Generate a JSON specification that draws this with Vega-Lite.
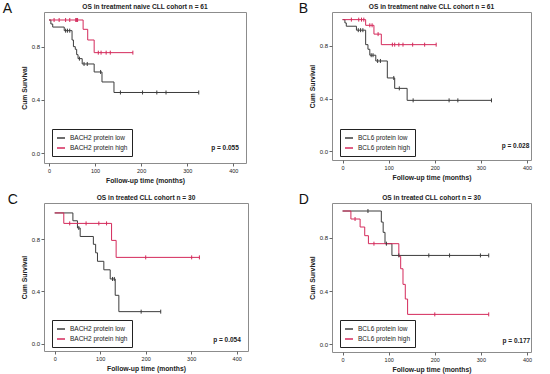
{
  "$schema": "https://vega.github.io/schema/vega-lite/v6.json",
  "background": "white",
  "padding": {"left": 2, "top": 1, "right": 2, "bottom": 1},
  "config": {
    "font": "Liberation Sans",
    "view": {"stroke": "#8c8c8c", "strokeWidth": 1},
    "axis": {"domain": false, "grid": false, "tickColor": "#666", "tickSize": 3, "labelFontSize": 5.5, "labelColor": "#222", "titleFontSize": 6.8, "titleFontWeight": "bold", "titleColor": "#222", "labelPadding": 2, "labelOverlap": false},
    "axisY": {"titlePadding": 4, "labelOverlap": false, "labelFontSize": 6, "labelPadding": 1.5},
    "axisX": {"titlePadding": 4},
    "title": {"fontSize": 6.6, "fontWeight": "bold", "color": "#222", "offset": 1},
    "legend": {"orient": "none", "legendX": 8, "legendY": 117, "strokeColor": "#222", "fillColor": "white", "padding": 4, "symbolType": "stroke", "symbolSize": 64, "symbolStrokeWidth": 1.5, "labelFontSize": 6.5, "labelColor": "#222", "rowPadding": 1, "labelLimit": 300}
  },
  "datasets": {
    "curves": [
      {"panel": "A", "group": "BACH2 protein low", "t": 0, "s": 1},
      {"panel": "A", "group": "BACH2 protein low", "t": 4, "s": 0.97},
      {"panel": "A", "group": "BACH2 protein low", "t": 8, "s": 0.947},
      {"panel": "A", "group": "BACH2 protein low", "t": 33, "s": 0.92},
      {"panel": "A", "group": "BACH2 protein low", "t": 50, "s": 0.85},
      {"panel": "A", "group": "BACH2 protein low", "t": 53, "s": 0.8},
      {"panel": "A", "group": "BACH2 protein low", "t": 57, "s": 0.78},
      {"panel": "A", "group": "BACH2 protein low", "t": 60, "s": 0.74},
      {"panel": "A", "group": "BACH2 protein low", "t": 63, "s": 0.71},
      {"panel": "A", "group": "BACH2 protein low", "t": 72, "s": 0.67},
      {"panel": "A", "group": "BACH2 protein low", "t": 98, "s": 0.61},
      {"panel": "A", "group": "BACH2 protein low", "t": 115, "s": 0.535},
      {"panel": "A", "group": "BACH2 protein low", "t": 141, "s": 0.456},
      {"panel": "A", "group": "BACH2 protein low", "t": 325, "s": 0.456},
      {"panel": "A", "group": "BACH2 protein high", "t": 0, "s": 1},
      {"panel": "A", "group": "BACH2 protein high", "t": 74, "s": 0.93},
      {"panel": "A", "group": "BACH2 protein high", "t": 84, "s": 0.85},
      {"panel": "A", "group": "BACH2 protein high", "t": 98, "s": 0.755},
      {"panel": "A", "group": "BACH2 protein high", "t": 182, "s": 0.755},
      {"panel": "B", "group": "BCL6 protein low", "t": 0, "s": 1},
      {"panel": "B", "group": "BCL6 protein low", "t": 5, "s": 0.975},
      {"panel": "B", "group": "BCL6 protein low", "t": 8, "s": 0.95},
      {"panel": "B", "group": "BCL6 protein low", "t": 30, "s": 0.92},
      {"panel": "B", "group": "BCL6 protein low", "t": 50, "s": 0.81},
      {"panel": "B", "group": "BCL6 protein low", "t": 55, "s": 0.775},
      {"panel": "B", "group": "BCL6 protein low", "t": 59, "s": 0.73},
      {"panel": "B", "group": "BCL6 protein low", "t": 72, "s": 0.686},
      {"panel": "B", "group": "BCL6 protein low", "t": 97, "s": 0.557},
      {"panel": "B", "group": "BCL6 protein low", "t": 113, "s": 0.478},
      {"panel": "B", "group": "BCL6 protein low", "t": 140, "s": 0.387},
      {"panel": "B", "group": "BCL6 protein low", "t": 323, "s": 0.387},
      {"panel": "B", "group": "BCL6 protein high", "t": 0, "s": 1},
      {"panel": "B", "group": "BCL6 protein high", "t": 50, "s": 0.957},
      {"panel": "B", "group": "BCL6 protein high", "t": 68, "s": 0.89},
      {"panel": "B", "group": "BCL6 protein high", "t": 84, "s": 0.81},
      {"panel": "B", "group": "BCL6 protein high", "t": 203, "s": 0.81},
      {"panel": "C", "group": "BACH2 protein low", "t": 0, "s": 1},
      {"panel": "C", "group": "BACH2 protein low", "t": 40, "s": 0.94},
      {"panel": "C", "group": "BACH2 protein low", "t": 50, "s": 0.885},
      {"panel": "C", "group": "BACH2 protein low", "t": 56, "s": 0.82},
      {"panel": "C", "group": "BACH2 protein low", "t": 85, "s": 0.76},
      {"panel": "C", "group": "BACH2 protein low", "t": 90, "s": 0.695},
      {"panel": "C", "group": "BACH2 protein low", "t": 94, "s": 0.63},
      {"panel": "C", "group": "BACH2 protein low", "t": 108, "s": 0.565},
      {"panel": "C", "group": "BACH2 protein low", "t": 122, "s": 0.495},
      {"panel": "C", "group": "BACH2 protein low", "t": 133, "s": 0.37},
      {"panel": "C", "group": "BACH2 protein low", "t": 141, "s": 0.245},
      {"panel": "C", "group": "BACH2 protein low", "t": 233, "s": 0.245},
      {"panel": "C", "group": "BACH2 protein high", "t": 0, "s": 1},
      {"panel": "C", "group": "BACH2 protein high", "t": 20, "s": 0.92},
      {"panel": "C", "group": "BACH2 protein high", "t": 125, "s": 0.79},
      {"panel": "C", "group": "BACH2 protein high", "t": 135, "s": 0.66},
      {"panel": "C", "group": "BACH2 protein high", "t": 318, "s": 0.66},
      {"panel": "D", "group": "BCL6 protein low", "t": 0, "s": 1},
      {"panel": "D", "group": "BCL6 protein low", "t": 84, "s": 0.917},
      {"panel": "D", "group": "BCL6 protein low", "t": 88, "s": 0.84},
      {"panel": "D", "group": "BCL6 protein low", "t": 92, "s": 0.755},
      {"panel": "D", "group": "BCL6 protein low", "t": 107, "s": 0.667},
      {"panel": "D", "group": "BCL6 protein low", "t": 317, "s": 0.667},
      {"panel": "D", "group": "BCL6 protein high", "t": 0, "s": 1},
      {"panel": "D", "group": "BCL6 protein high", "t": 18, "s": 0.94},
      {"panel": "D", "group": "BCL6 protein high", "t": 38, "s": 0.88},
      {"panel": "D", "group": "BCL6 protein high", "t": 48, "s": 0.815},
      {"panel": "D", "group": "BCL6 protein high", "t": 56, "s": 0.755},
      {"panel": "D", "group": "BCL6 protein high", "t": 122, "s": 0.66},
      {"panel": "D", "group": "BCL6 protein high", "t": 126, "s": 0.567},
      {"panel": "D", "group": "BCL6 protein high", "t": 131, "s": 0.45},
      {"panel": "D", "group": "BCL6 protein high", "t": 136, "s": 0.34},
      {"panel": "D", "group": "BCL6 protein high", "t": 141, "s": 0.225},
      {"panel": "D", "group": "BCL6 protein high", "t": 317, "s": 0.225}
    ],
    "censors": [
      {"panel": "A", "group": "BACH2 protein low", "t": 36, "s": 0.92},
      {"panel": "A", "group": "BACH2 protein low", "t": 40, "s": 0.92},
      {"panel": "A", "group": "BACH2 protein low", "t": 45, "s": 0.92},
      {"panel": "A", "group": "BACH2 protein low", "t": 66, "s": 0.71},
      {"panel": "A", "group": "BACH2 protein low", "t": 76, "s": 0.67},
      {"panel": "A", "group": "BACH2 protein low", "t": 83, "s": 0.67},
      {"panel": "A", "group": "BACH2 protein low", "t": 112, "s": 0.61},
      {"panel": "A", "group": "BACH2 protein low", "t": 155, "s": 0.456},
      {"panel": "A", "group": "BACH2 protein low", "t": 203, "s": 0.456},
      {"panel": "A", "group": "BACH2 protein low", "t": 234, "s": 0.456},
      {"panel": "A", "group": "BACH2 protein low", "t": 254, "s": 0.456},
      {"panel": "A", "group": "BACH2 protein low", "t": 325, "s": 0.456},
      {"panel": "A", "group": "BACH2 protein high", "t": 11, "s": 1},
      {"panel": "A", "group": "BACH2 protein high", "t": 22, "s": 1},
      {"panel": "A", "group": "BACH2 protein high", "t": 36, "s": 1},
      {"panel": "A", "group": "BACH2 protein high", "t": 45, "s": 1},
      {"panel": "A", "group": "BACH2 protein high", "t": 58, "s": 1},
      {"panel": "A", "group": "BACH2 protein high", "t": 60, "s": 1},
      {"panel": "A", "group": "BACH2 protein high", "t": 62, "s": 1},
      {"panel": "A", "group": "BACH2 protein high", "t": 107, "s": 0.755},
      {"panel": "A", "group": "BACH2 protein high", "t": 113, "s": 0.755},
      {"panel": "A", "group": "BACH2 protein high", "t": 124, "s": 0.755},
      {"panel": "A", "group": "BACH2 protein high", "t": 133, "s": 0.755},
      {"panel": "A", "group": "BACH2 protein high", "t": 182, "s": 0.755},
      {"panel": "B", "group": "BCL6 protein low", "t": 34, "s": 0.92},
      {"panel": "B", "group": "BCL6 protein low", "t": 39, "s": 0.92},
      {"panel": "B", "group": "BCL6 protein low", "t": 44, "s": 0.92},
      {"panel": "B", "group": "BCL6 protein low", "t": 62, "s": 0.73},
      {"panel": "B", "group": "BCL6 protein low", "t": 66, "s": 0.73},
      {"panel": "B", "group": "BCL6 protein low", "t": 76, "s": 0.686},
      {"panel": "B", "group": "BCL6 protein low", "t": 82, "s": 0.686},
      {"panel": "B", "group": "BCL6 protein low", "t": 111, "s": 0.557},
      {"panel": "B", "group": "BCL6 protein low", "t": 123, "s": 0.478},
      {"panel": "B", "group": "BCL6 protein low", "t": 153, "s": 0.387},
      {"panel": "B", "group": "BCL6 protein low", "t": 231, "s": 0.387},
      {"panel": "B", "group": "BCL6 protein low", "t": 250, "s": 0.387},
      {"panel": "B", "group": "BCL6 protein low", "t": 323, "s": 0.387},
      {"panel": "B", "group": "BCL6 protein high", "t": 19, "s": 1},
      {"panel": "B", "group": "BCL6 protein high", "t": 35, "s": 1},
      {"panel": "B", "group": "BCL6 protein high", "t": 41, "s": 1},
      {"panel": "B", "group": "BCL6 protein high", "t": 46, "s": 1},
      {"panel": "B", "group": "BCL6 protein high", "t": 59, "s": 0.957},
      {"panel": "B", "group": "BCL6 protein high", "t": 64, "s": 0.957},
      {"panel": "B", "group": "BCL6 protein high", "t": 77, "s": 0.89},
      {"panel": "B", "group": "BCL6 protein high", "t": 108, "s": 0.81},
      {"panel": "B", "group": "BCL6 protein high", "t": 113, "s": 0.81},
      {"panel": "B", "group": "BCL6 protein high", "t": 122, "s": 0.81},
      {"panel": "B", "group": "BCL6 protein high", "t": 131, "s": 0.81},
      {"panel": "B", "group": "BCL6 protein high", "t": 152, "s": 0.81},
      {"panel": "B", "group": "BCL6 protein high", "t": 178, "s": 0.81},
      {"panel": "B", "group": "BCL6 protein high", "t": 203, "s": 0.81},
      {"panel": "C", "group": "BACH2 protein low", "t": 53, "s": 0.885},
      {"panel": "C", "group": "BACH2 protein low", "t": 127, "s": 0.495},
      {"panel": "C", "group": "BACH2 protein low", "t": 131, "s": 0.495},
      {"panel": "C", "group": "BACH2 protein low", "t": 190, "s": 0.245},
      {"panel": "C", "group": "BACH2 protein low", "t": 233, "s": 0.245},
      {"panel": "C", "group": "BACH2 protein high", "t": 33, "s": 0.92},
      {"panel": "C", "group": "BACH2 protein high", "t": 69, "s": 0.92},
      {"panel": "C", "group": "BACH2 protein high", "t": 97, "s": 0.92},
      {"panel": "C", "group": "BACH2 protein high", "t": 114, "s": 0.92},
      {"panel": "C", "group": "BACH2 protein high", "t": 200, "s": 0.66},
      {"panel": "C", "group": "BACH2 protein high", "t": 301, "s": 0.66},
      {"panel": "C", "group": "BACH2 protein high", "t": 318, "s": 0.66},
      {"panel": "D", "group": "BCL6 protein low", "t": 55, "s": 1},
      {"panel": "D", "group": "BCL6 protein low", "t": 95, "s": 0.755},
      {"panel": "D", "group": "BCL6 protein low", "t": 122, "s": 0.667},
      {"panel": "D", "group": "BCL6 protein low", "t": 187, "s": 0.667},
      {"panel": "D", "group": "BCL6 protein low", "t": 232, "s": 0.667},
      {"panel": "D", "group": "BCL6 protein low", "t": 299, "s": 0.667},
      {"panel": "D", "group": "BCL6 protein low", "t": 317, "s": 0.667},
      {"panel": "D", "group": "BCL6 protein high", "t": 27, "s": 0.94},
      {"panel": "D", "group": "BCL6 protein high", "t": 68, "s": 0.755},
      {"panel": "D", "group": "BCL6 protein high", "t": 200, "s": 0.225},
      {"panel": "D", "group": "BCL6 protein high", "t": 317, "s": 0.225}
    ]
  },
  "resolve": {"scale": {"color": "independent"}, "legend": {"color": "independent"}},
  "columns": 2,
  "spacing": {"row": 7, "column": 49},
  "concat": [
    {
      "title": {"text": "A", "anchor": "start", "frame": "bounds", "fontSize": 14, "fontWeight": "normal", "color": "#111", "offset": 0, "dx": -18, "dy": 12},
      "vconcat": [
        {
          "title": {"text": "OS in treatment naive CLL cohort n = 61"},
          "width": 202, "height": 151,
          "layer": [
            {"data": {"name": "curves"}, "transform": [{"filter": "datum.panel === 'A'"}],
             "mark": {"type": "line", "interpolate": "step-after", "strokeWidth": 1},
             "encoding": {
               "x": {"field": "t", "type": "quantitative", "scale": {"domain": [-10.9, 427.6], "nice": false, "zero": false}, "axis": {"values": [0, 100, 200, 300, 400], "title": "Follow-up time (months)"}},
               "y": {"field": "s", "type": "quantitative", "scale": {"domain": [-0.073, 1.06], "nice": false, "zero": false}, "axis": {"values": [0, 0.2, 0.4, 0.6, 0.8, 1], "format": ".1f", "labelOverlap": false, "title": "Cum Survival"}},
               "color": {"field": "group", "type": "nominal", "scale": {"domain": ["BACH2 protein low", "BACH2 protein high"], "range": ["#3c3c3c", "#d42a5b"]}, "legend": {"title": null}}
             }},
            {"data": {"name": "censors"}, "transform": [{"filter": "datum.panel === 'A'"}],
             "mark": {"type": "point", "shape": "M0,-1L0,1", "filled": false, "size": 16, "strokeWidth": 1, "opacity": 1},
             "encoding": {
               "x": {"field": "t", "type": "quantitative"},
               "y": {"field": "s", "type": "quantitative"},
               "color": {"field": "group", "type": "nominal", "legend": null}
             }},
            {"data": {"values": [{}]},
             "mark": {"type": "text", "align": "right", "baseline": "middle", "fontSize": 6.5, "fontWeight": "bold", "color": "#222"},
             "encoding": {"x": {"datum": 412}, "y": {"datum": 0.038}, "text": {"value": "p = 0.055"}}}
          ]
        }
      ]
    },
    {
      "title": {"text": "B", "anchor": "start", "frame": "bounds", "fontSize": 14, "fontWeight": "normal", "color": "#111", "offset": 0, "dx": -10, "dy": 12},
      "vconcat": [
        {
          "title": {"text": "OS in treatment naive CLL cohort n = 61"},
          "width": 199, "height": 148,
          "layer": [
            {"data": {"name": "curves"}, "transform": [{"filter": "datum.panel === 'B'"}],
             "mark": {"type": "line", "interpolate": "step-after", "strokeWidth": 1},
             "encoding": {
               "x": {"field": "t", "type": "quantitative", "scale": {"domain": [-23, 408.7], "nice": false, "zero": false}, "axis": {"values": [0, 100, 200, 300, 400], "title": "Follow-up time (months)"}},
               "y": {"field": "s", "type": "quantitative", "scale": {"domain": [-0.066, 1.058], "nice": false, "zero": false}, "axis": {"values": [0, 0.2, 0.4, 0.6, 0.8, 1], "format": ".1f", "labelOverlap": false, "title": "Cum Survival"}},
               "color": {"field": "group", "type": "nominal", "scale": {"domain": ["BCL6 protein low", "BCL6 protein high"], "range": ["#3c3c3c", "#d42a5b"]}, "legend": {"title": null}}
             }},
            {"data": {"name": "censors"}, "transform": [{"filter": "datum.panel === 'B'"}],
             "mark": {"type": "point", "shape": "M0,-1L0,1", "filled": false, "size": 16, "strokeWidth": 1, "opacity": 1},
             "encoding": {
               "x": {"field": "t", "type": "quantitative"},
               "y": {"field": "s", "type": "quantitative"},
               "color": {"field": "group", "type": "nominal", "legend": null}
             }},
            {"data": {"values": [{}]},
             "mark": {"type": "text", "align": "right", "baseline": "middle", "fontSize": 6.5, "fontWeight": "bold", "color": "#222"},
             "encoding": {"x": {"datum": 405}, "y": {"datum": 0.04}, "text": {"value": "p = 0.028"}}}
          ]
        }
      ]
    },
    {
      "title": {"text": "C", "anchor": "start", "frame": "bounds", "fontSize": 14, "fontWeight": "normal", "color": "#111", "offset": 0, "dx": -13, "dy": 12},
      "vconcat": [
        {
          "title": {"text": "OS in treated CLL cohort n = 30"},
          "width": 204, "height": 148,
          "layer": [
            {"data": {"name": "curves"}, "transform": [{"filter": "datum.panel === 'C'"}],
             "mark": {"type": "line", "interpolate": "step-after", "strokeWidth": 1},
             "encoding": {
               "x": {"field": "t", "type": "quantitative", "scale": {"domain": [-23.5, 424.8], "nice": false, "zero": false}, "axis": {"values": [0, 100, 200, 300, 400], "title": "Follow-up time (months)"}},
               "y": {"field": "s", "type": "quantitative", "scale": {"domain": [-0.056, 1.076], "nice": false, "zero": false}, "axis": {"values": [0, 0.2, 0.4, 0.6, 0.8, 1], "format": ".1f", "labelOverlap": false, "title": "Cum Survival"}},
               "color": {"field": "group", "type": "nominal", "scale": {"domain": ["BACH2 protein low", "BACH2 protein high"], "range": ["#3c3c3c", "#d42a5b"]}, "legend": {"title": null}}
             }},
            {"data": {"name": "censors"}, "transform": [{"filter": "datum.panel === 'C'"}],
             "mark": {"type": "point", "shape": "M0,-1L0,1", "filled": false, "size": 16, "strokeWidth": 1, "opacity": 1},
             "encoding": {
               "x": {"field": "t", "type": "quantitative"},
               "y": {"field": "s", "type": "quantitative"},
               "color": {"field": "group", "type": "nominal", "legend": null}
             }},
            {"data": {"values": [{}]},
             "mark": {"type": "text", "align": "right", "baseline": "middle", "fontSize": 6.5, "fontWeight": "bold", "color": "#222"},
             "encoding": {"x": {"datum": 409}, "y": {"datum": 0.025}, "text": {"value": "p = 0.054"}}}
          ]
        }
      ]
    },
    {
      "title": {"text": "D", "anchor": "start", "frame": "bounds", "fontSize": 14, "fontWeight": "normal", "color": "#111", "offset": 0, "dx": -10, "dy": 12},
      "vconcat": [
        {
          "title": {"text": "OS in treated CLL cohort n = 30"},
          "width": 199, "height": 149,
          "layer": [
            {"data": {"name": "curves"}, "transform": [{"filter": "datum.panel === 'D'"}],
             "mark": {"type": "line", "interpolate": "step-after", "strokeWidth": 1},
             "encoding": {
               "x": {"field": "t", "type": "quantitative", "scale": {"domain": [-23, 408.7], "nice": false, "zero": false}, "axis": {"values": [0, 100, 200, 300, 400], "title": "Follow-up time (months)"}},
               "y": {"field": "s", "type": "quantitative", "scale": {"domain": [-0.057, 1.06], "nice": false, "zero": false}, "axis": {"values": [0, 0.2, 0.4, 0.6, 0.8, 1], "format": ".1f", "labelOverlap": false, "title": "Cum Survival"}},
               "color": {"field": "group", "type": "nominal", "scale": {"domain": ["BCL6 protein low", "BCL6 protein high"], "range": ["#3c3c3c", "#d42a5b"]}, "legend": {"title": null}}
             }},
            {"data": {"name": "censors"}, "transform": [{"filter": "datum.panel === 'D'"}],
             "mark": {"type": "point", "shape": "M0,-1L0,1", "filled": false, "size": 16, "strokeWidth": 1, "opacity": 1},
             "encoding": {
               "x": {"field": "t", "type": "quantitative"},
               "y": {"field": "s", "type": "quantitative"},
               "color": {"field": "group", "type": "nominal", "legend": null}
             }},
            {"data": {"values": [{}]},
             "mark": {"type": "text", "align": "right", "baseline": "middle", "fontSize": 6.5, "fontWeight": "bold", "color": "#222"},
             "encoding": {"x": {"datum": 407}, "y": {"datum": 0.028}, "text": {"value": "p = 0.177"}}}
          ]
        }
      ]
    }
  ]
}
